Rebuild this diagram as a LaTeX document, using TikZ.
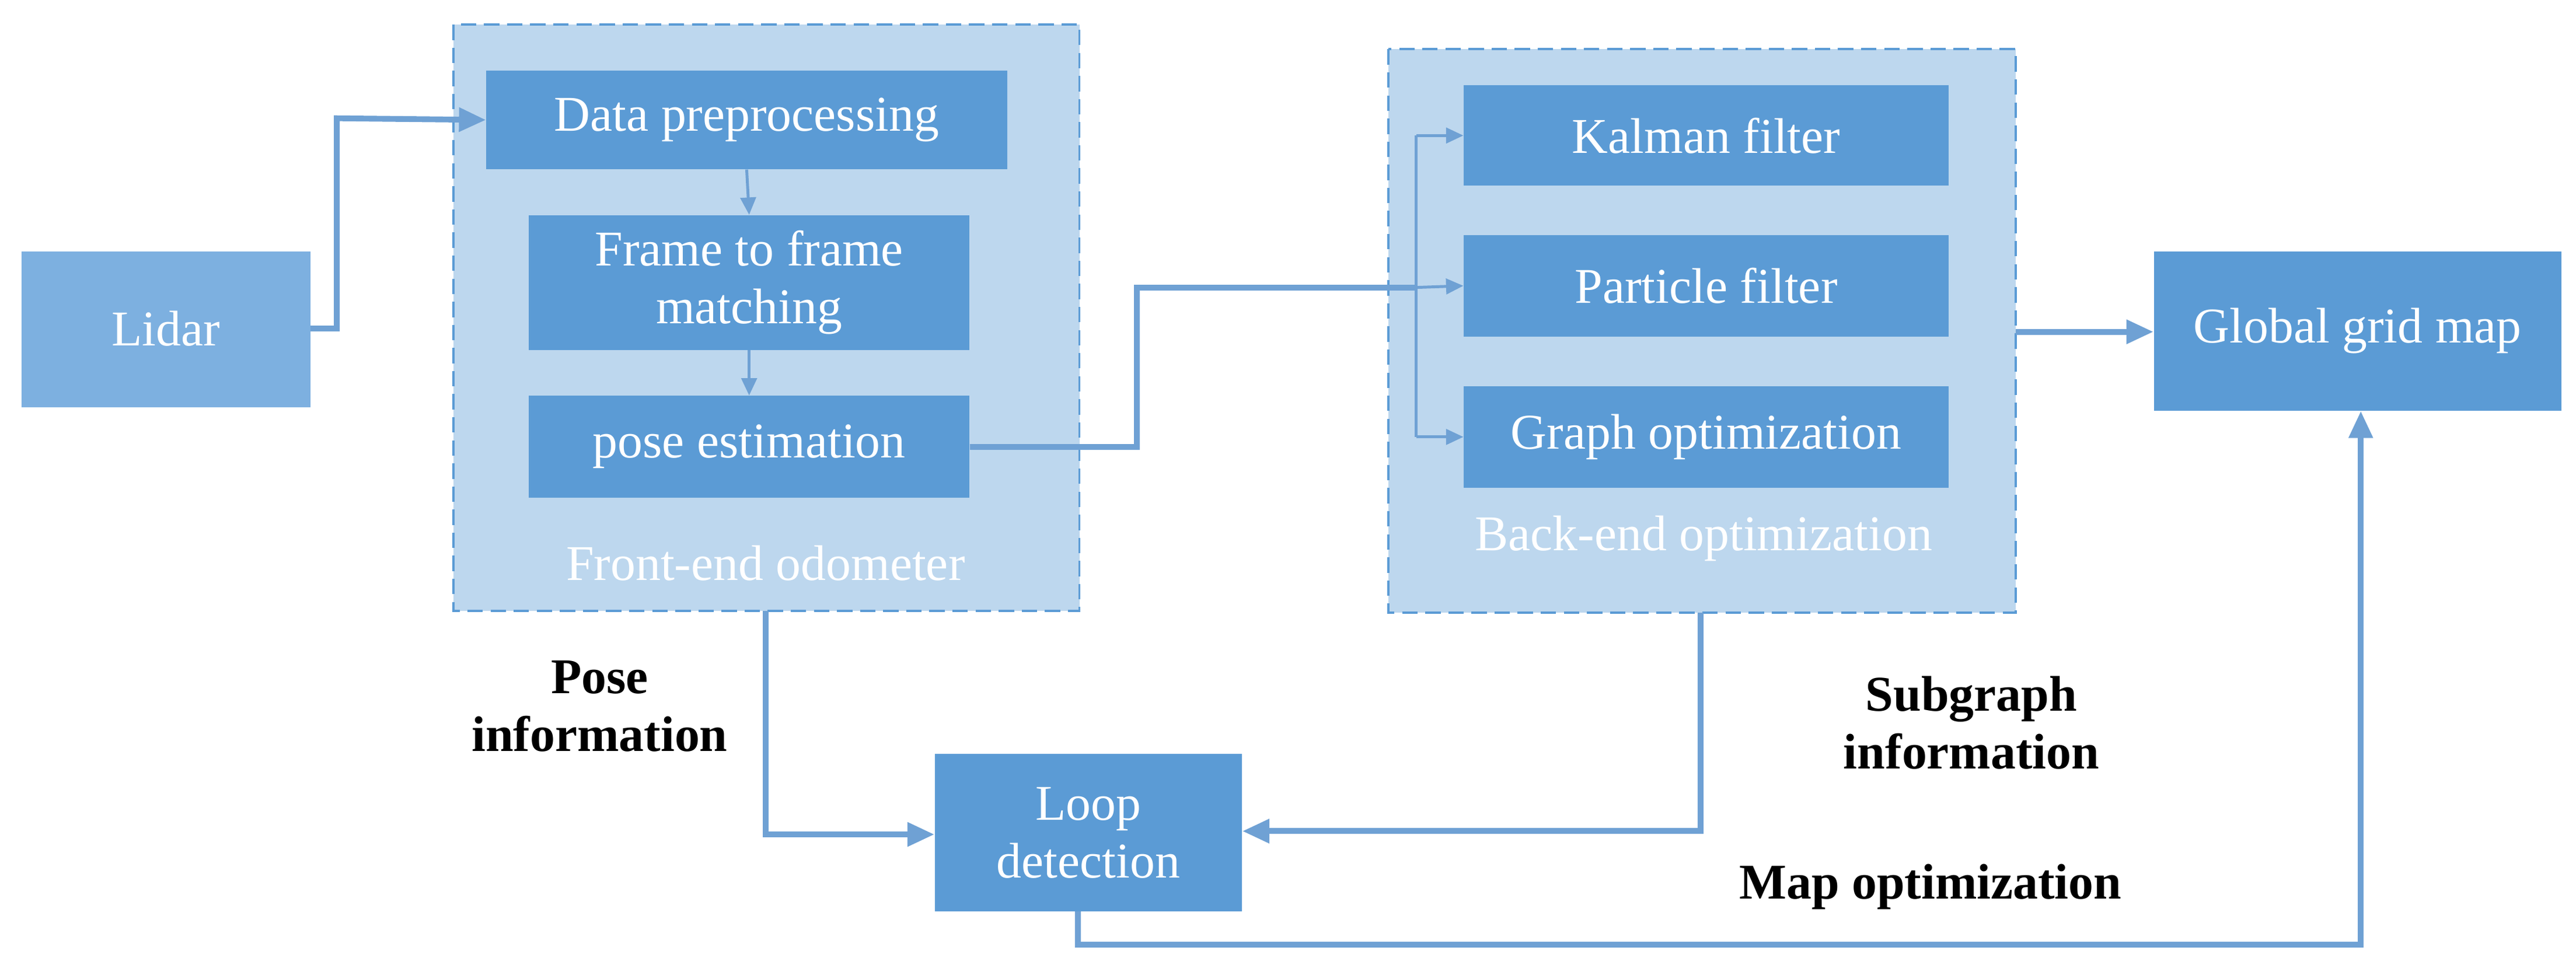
\documentclass[tikz,border=0pt]{standalone}
\usepackage{fontspec}
\setmainfont{Liberation Serif}
\usetikzlibrary{arrows.meta}
\definecolor{boxc}{HTML}{5B9BD5}
\definecolor{lidc}{HTML}{7DB0E0}
\definecolor{cont}{HTML}{BDD7EE}
\definecolor{linec}{HTML}{6FA1D4}
\begin{document}
\begin{tikzpicture}[x=0.3mm,y=-0.3mm,
  box/.style={fill=boxc,draw=none,text=white,font=\fontsize{26}{30}\selectfont,align=center,inner sep=0pt},
  cont/.style={fill=cont,draw=boxc,dashed,line width=1.2pt,dash pattern=on 8pt off 4pt},
  conn/.style={draw=linec,line width=3pt,-{Triangle[length=14pt,width=12pt]}},
  thin/.style={draw=linec,line width=1.5pt,-{Triangle[length=9pt,width=8pt]}},
  lbl/.style={font=\fontsize{26}{30}\selectfont\bfseries,align=center,text=black}]
\useasboundingbox (0,0) rectangle (1568,589);
\draw[cont] (276,15) rectangle (657,372);
\draw[cont] (845,30) rectangle (1227,373);
\node[box,fill=lidc,minimum width=176\pgflinewidth,text width=0] (lidar) at (101,200) {};
\fill[lidc] (13,153) rectangle (189,248);
\node[font=\fontsize{26}{30}\selectfont,text=white] (lidt) at (101,200) {Lidar};
\coordinate (lidarE) at (189,200);
\node[box,minimum width=317*0.3mm,minimum height=60*0.3mm] (dp) at (454.5,73) {Data preprocessing};
\node[box,minimum width=268*0.3mm,minimum height=82*0.3mm] (ff) at (456,172) {Frame to frame\\matching};
\node[box,minimum width=268*0.3mm,minimum height=62*0.3mm] (pe) at (456,272) {pose estimation};
\node[text=white,font=\fontsize{26}{30}\selectfont] (fe) at (466,343) {Front-end odometer};
\node[box,minimum width=295*0.3mm,minimum height=61*0.3mm] (kf) at (1038.5,82.5) {Kalman filter};
\node[box,minimum width=295*0.3mm,minimum height=62*0.3mm] (pf) at (1038.5,174) {Particle filter};
\node[box,minimum width=295*0.3mm,minimum height=62*0.3mm] (go) at (1038.5,266) {Graph optimization};
\node[text=white,font=\fontsize{26}{30}\selectfont] (be) at (1037,328) {Back-end optimization};
\node[box,minimum width=248*0.3mm,minimum height=97*0.3mm] (gm) at (1435,201.5) {Global grid map};
\node[box,minimum width=187*0.3mm,minimum height=96*0.3mm] (ld) at (662.5,507) {Loop\\detection};
\node[lbl] (pi) at (365,430) {Pose\\information};
\node[lbl] (si) at (1200,440) {Subgraph\\information};
\node[lbl] (mo) at (1175,540) {Map optimization};
\coordinate (feS) at (466,372);
\coordinate (beS) at (1035,373);
\coordinate (beE) at (1227,202);
\coordinate (br) at (862,175);
\draw[conn] (lidarE) -- (205,200) -- (205,72) -- (dp.west);
\draw[thin] (dp.south) -- (ff.north);
\draw[thin] (ff.south) -- (pe.north);
\draw[draw=linec,line width=3pt] (pe.east) -- (692,272) -- (692,175) -- (br);
\draw[draw=linec,line width=1.5pt] (862,82.5) -- (862,266);
\draw[thin] (862,82.5) -- (kf.west);
\draw[thin] (br) -- (pf.west);
\draw[thin] (862,266) -- (go.west);
\draw[conn] (beE) -- (gm.west |- beE);
\draw[conn] (feS) -- (466,508) -- (ld.west |- 0,508);
\draw[conn] (beS) -- (1035,506) -- (ld.east |- 0,506);
\draw[conn] (656,555) -- (656,575) -- (1437,575) -- (gm.south -| 1437,0);
\end{tikzpicture}
\end{document}
